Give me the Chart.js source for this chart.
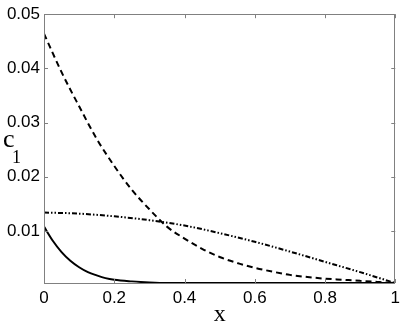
<!DOCTYPE html>
<html><head><meta charset="utf-8">
<script src="https://cdn.jsdelivr.net/npm/chart.js@4"></script>
<style>html,body{margin:0;padding:0;background:#fff}#wrap{width:405px;height:329px;position:relative}</style>
</head><body><div id="wrap"><canvas id="c" width="405" height="329"></canvas></div>
<script>
const xDashed = [0,0.05,0.1,0.15,0.2,0.25,0.3,0.35,0.4,0.45,0.5,0.55,0.6,0.65,0.7,0.75,0.8,0.85,0.9,0.95,1];
const yDashed = [0.0464,0.0393,0.0330,0.0270,0.0220,0.0176,0.0140,0.0108,0.0086,0.0067,0.0052,0.0041,0.0032,0.0025,0.0019,0.0015,0.0012,0.0010,0.0008,0.0006,0.0004];
const xDashDot = [0,0.1,0.2,0.3,0.4,0.5,0.6,0.7,0.8,0.9,1];
const yDashDot = [0.0134,0.0132,0.0127,0.0120,0.0110,0.0096,0.0080,0.0062,0.0043,0.0024,0.0004];
const xSolid = [0,0.025,0.05,0.075,0.1,0.125,0.15,0.175,0.2,0.25,0.3,0.35,0.5,0.75,1];
const ySolid = [0.0108,0.0082,0.0061,0.0045,0.0033,0.0024,0.0018,0.0013,0.0010,0.0007,0.0005,0.0004,0.0004,0.0004,0.0004];
const xTicks = [0,0.2,0.4,0.6,0.8,1];
const xTickLabels = ['0','0.2','0.4','0.6','0.8','1'];
const yTicks = [0.01,0.02,0.03,0.04,0.05];
const yTickLabels = ['0.01','0.02','0.03','0.04','0.05'];
const xLabel = 'x';
const yLabelMain = 'c';
const yLabelSub = '1';

const pts = (xs, ys) => xs.map((x, i) => ({x, y: ys[i]}));

const boxPlugin = {
  id: 'box',
  afterDraw(chart) {
    const {ctx, chartArea: a, scales} = chart;
    ctx.save();
    ctx.strokeStyle = '#808080';
    ctx.lineWidth = 1;
    ctx.strokeRect(Math.round(a.left) + 0.5, Math.round(a.top) + 0.5, Math.round(a.right - a.left) - 1, Math.round(a.bottom - a.top));
    const L = 4;
    ctx.beginPath();
    xTicks.forEach(v => {
      const px = Math.round(scales.x.getPixelForValue(v)) + 0.5;
      ctx.moveTo(px, a.bottom); ctx.lineTo(px, a.bottom - L);
      ctx.moveTo(px, a.top); ctx.lineTo(px, a.top + L);
    });
    yTicks.forEach(v => {
      const py = Math.round(scales.y.getPixelForValue(v)) + 0.5;
      ctx.moveTo(a.left, py); ctx.lineTo(a.left + L, py);
      ctx.moveTo(a.right, py); ctx.lineTo(a.right - L, py);
    });
    ctx.stroke();
    ctx.fillStyle = '#000';
    ctx.textBaseline = 'alphabetic';
    ctx.textAlign = 'left';
    ctx.font = '26px "Liberation Serif"';
    ctx.fillText(yLabelMain, 3, 147);
    ctx.font = '18px "Liberation Serif"';
    ctx.fillText(yLabelSub, 12, 163);
    ctx.restore();
  }
};

new Chart(document.getElementById('c'), {
  type: 'line',
  data: {
    datasets: [
      {data: pts(xDashed, yDashed), borderColor: '#000', borderWidth: 2, borderDash: [6, 4], pointRadius: 0, cubicInterpolationMode: 'monotone', fill: false},
      {data: pts(xDashDot, yDashDot), borderColor: '#000', borderWidth: 2, borderDash: [5, 2, 1.5, 2, 1.5, 2], pointRadius: 0, cubicInterpolationMode: 'monotone', fill: false},
      {data: pts(xSolid, ySolid), borderColor: '#000', borderWidth: 2, pointRadius: 0, cubicInterpolationMode: 'monotone', fill: false}
    ]
  },
  options: {
    responsive: false,
    animation: false,
    events: [],
    layout: {padding: {left: 0, right: 8, top: 12, bottom: 0}},
    plugins: {legend: {display: false}, tooltip: {enabled: false}},
    scales: {
      x: {
        type: 'linear', min: 0, max: 1,
        afterBuildTicks: s => { s.ticks = xTicks.map(v => ({value: v})); },
        afterFit: s => { s.height = 46; },
        grid: {display: false, drawTicks: false},
        border: {display: false},
        ticks: {color: '#000', font: {family: '"Liberation Sans"', size: 17}, padding: 5, maxRotation: 0,
          callback: (v) => xTickLabels[xTicks.indexOf(v)]},
        title: {display: true, text: xLabel, color: '#000', font: {family: '"Liberation Serif"', size: 24}, padding: {top: -4, bottom: 0}}
      },
      y: {
        type: 'linear', min: 0.0004, max: 0.05,
        afterBuildTicks: s => { s.ticks = yTicks.map(v => ({value: v})); },
        afterFit: s => { s.width = 44; },
        grid: {display: false, drawTicks: false},
        border: {display: false},
        ticks: {color: '#000', font: {family: '"Liberation Sans"', size: 17}, padding: 4,
          callback: (v) => yTickLabels[yTicks.indexOf(v)]}
      }
    }
  },
  plugins: [boxPlugin]
});
</script></body></html>
